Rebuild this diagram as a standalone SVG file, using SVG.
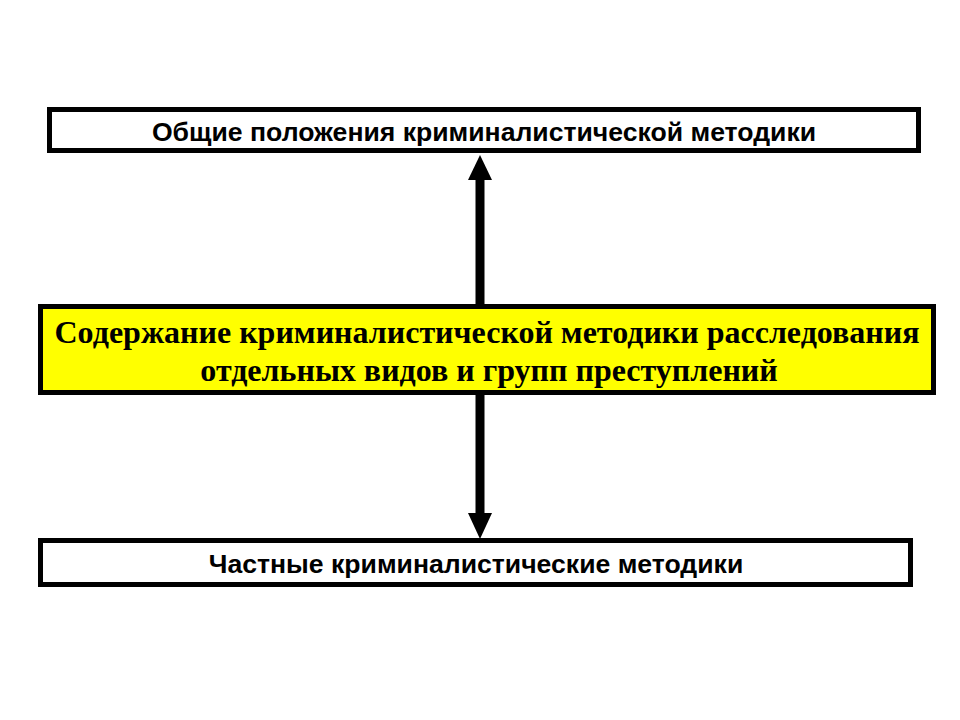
<svg xmlns="http://www.w3.org/2000/svg" width="960" height="720" viewBox="0 0 960 720">
<style>
.box{fill:#fff;stroke:#000;stroke-width:5}
.hl{fill:#ffff00;stroke:#000;stroke-width:5}
.sans{font-family:"Liberation Sans",Arial,sans-serif;font-weight:bold;font-size:26.6px;fill:#000;text-anchor:middle}
.serif{font-family:"Liberation Serif","Times New Roman",serif;font-weight:bold;font-size:32px;fill:#000;text-anchor:middle}
.shaft{stroke:#000;stroke-width:9;fill:none}
</style>
<rect width="960" height="720" fill="#fff"/>
<g id="connectors">
<line class="shaft" x1="480" y1="178" x2="480" y2="304"/>
<polygon points="480,155 468,180 492,180" fill="#000"/>
<line class="shaft" x1="480" y1="395" x2="480" y2="515"/>
<polygon points="480,539 468,513 492,513" fill="#000"/>
</g>
<g id="general">
<rect class="box" x="49.5" y="109.5" width="869" height="41"/>
<text class="sans" x="484" y="141">Общие положения криминалистической методики</text>
</g>
<g id="content">
<rect class="hl" x="40.5" y="306.5" width="893" height="86"/>
<text class="serif" x="487" y="343">Содержание криминалистической методики расследования</text>
<text class="serif" x="489" y="381">отдельных видов и групп преступлений</text>
</g>
<g id="particular">
<rect class="box" x="40.5" y="540.5" width="870" height="44"/>
<text class="sans" x="476" y="573">Частные криминалистические методики</text>
</g>
</svg>
